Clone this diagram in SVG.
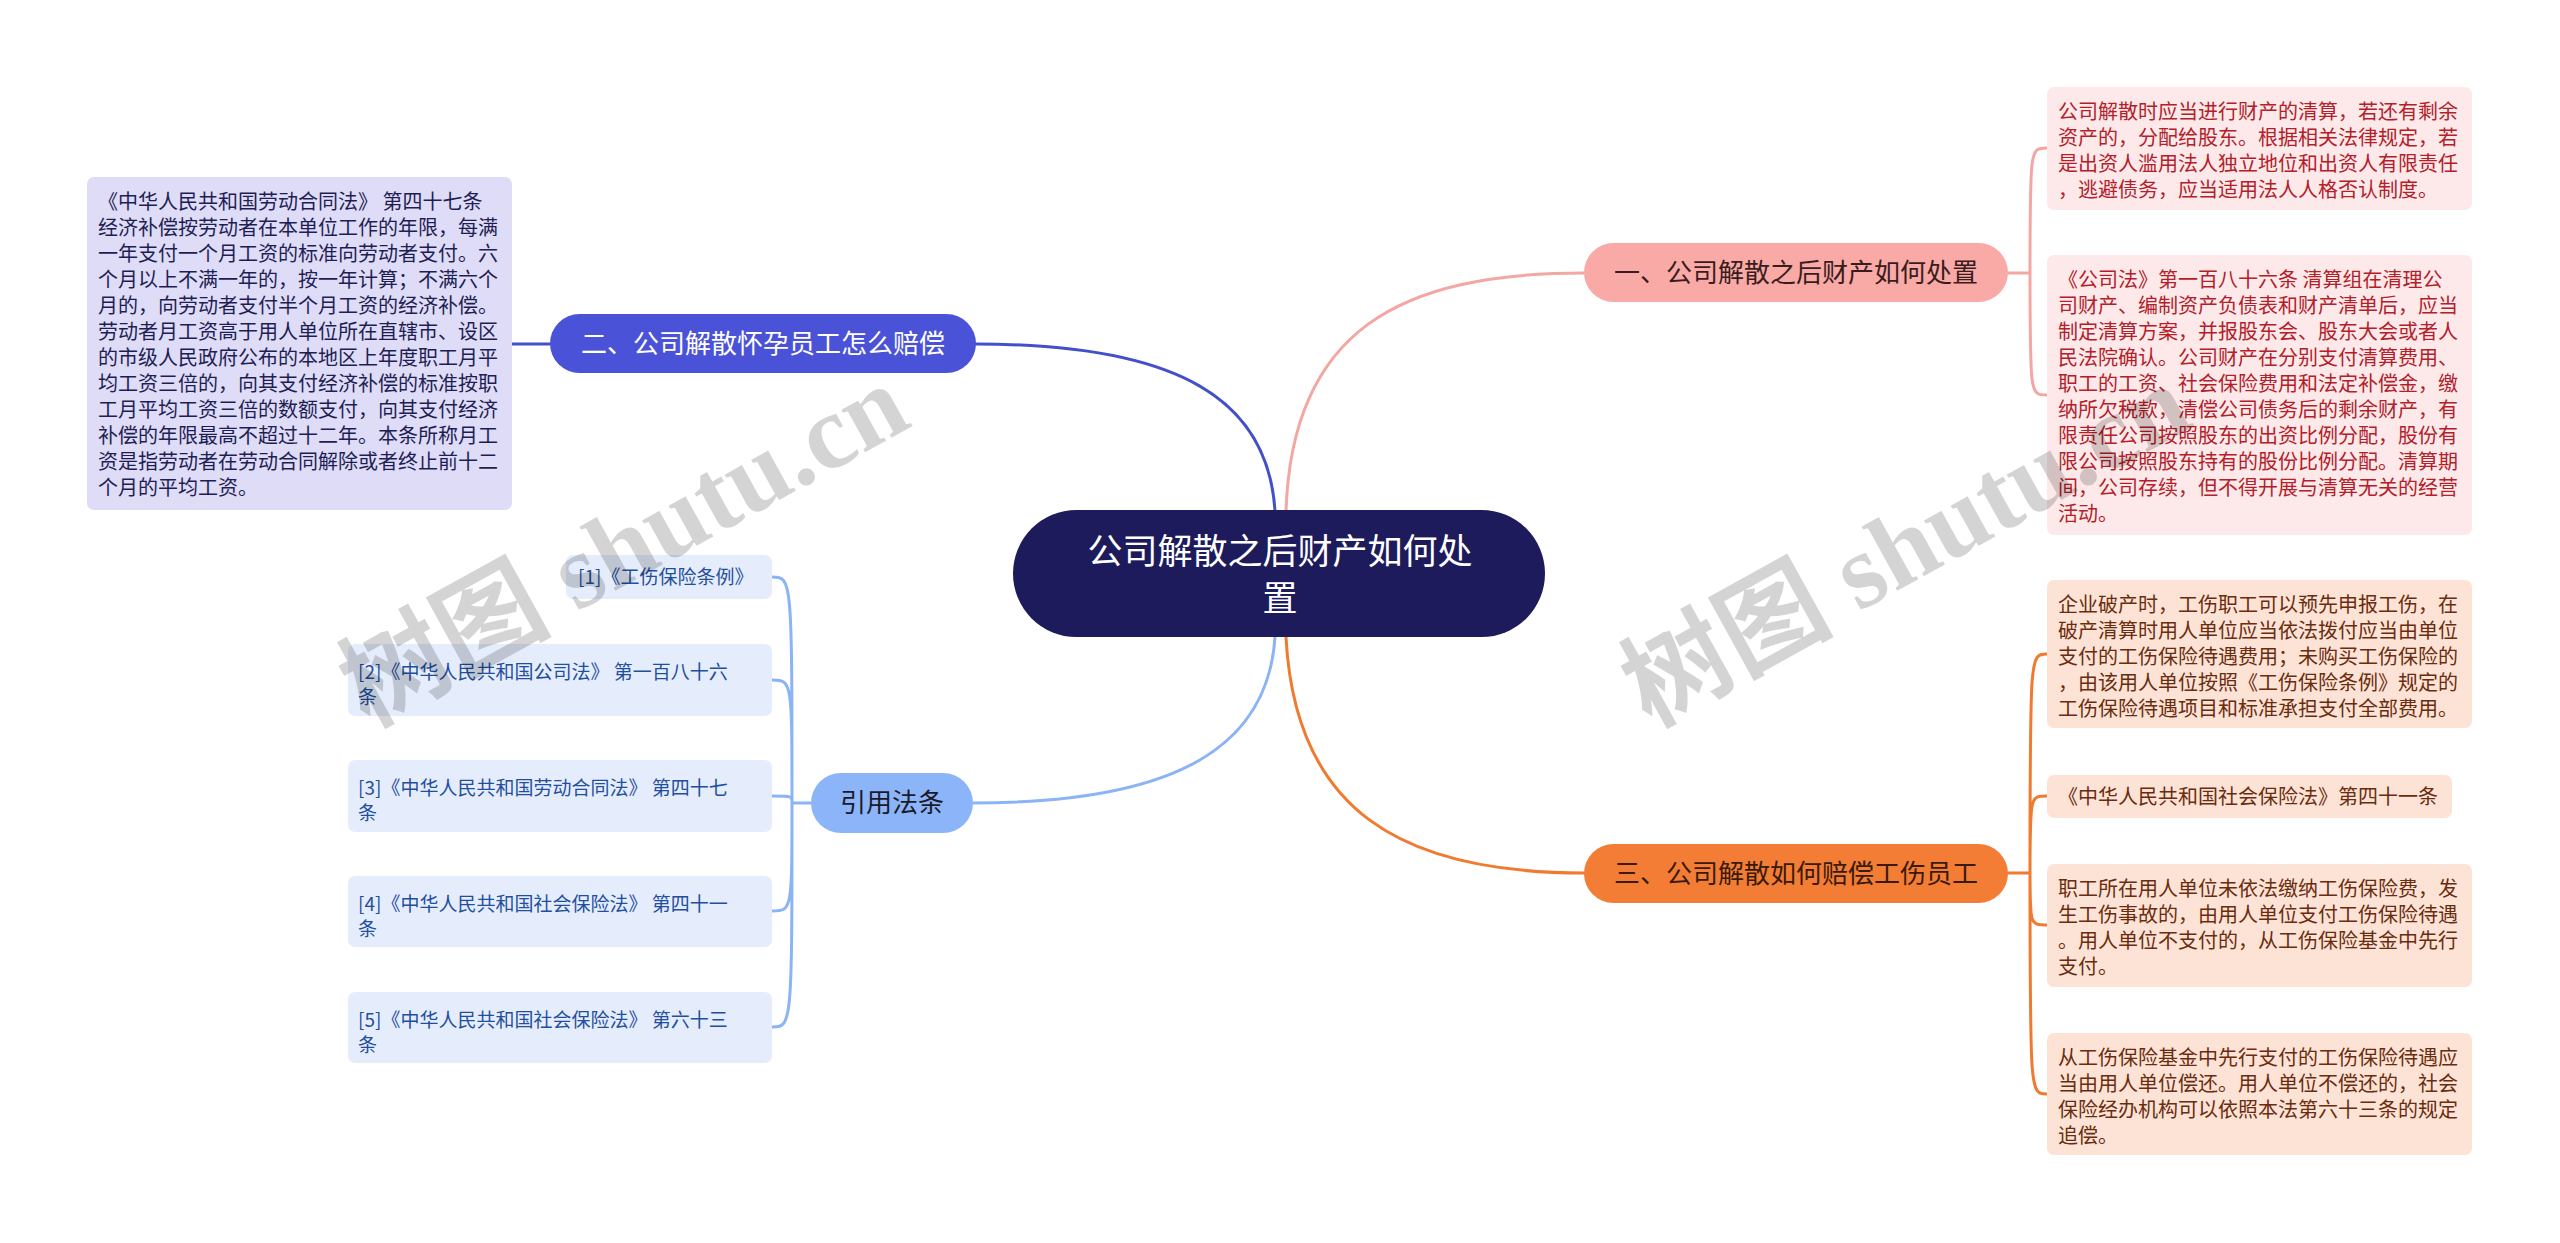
<svg xmlns="http://www.w3.org/2000/svg" width="2560" height="1243" viewBox="0 0 2560 1243">
<style>
  text { font-family: "Noto Sans CJK SC", "Noto Sans", sans-serif; }
  .box { stroke: none; }
  .t20 { font-size: 20px; }
  .t19 { font-size: 19px; }
  .navy { fill: #1e1e55; }
  .red { fill: #b3202a; }
  .brown { fill: #6a2c0e; }
  .blue { fill: #1f4f9e; }
  .conn { fill: none; stroke-width: 3; stroke-linecap: round; }
  .wm { font-family: "Liberation Serif", "Noto Sans CJK SC", serif; font-size: 106px; font-weight: bold; fill: #000; fill-opacity: 0.17; }
</style>
<rect width="2560" height="1243" fill="#ffffff"/>

<g id="connectors">
  <path class="conn" stroke="#4450c8" d="M 1275 511 C 1268 400, 1180 344, 976 344"/>
  <path class="conn" stroke="#4450c8" d="M 550 344 L 512 344"/>
  <path class="conn" stroke="#f4a6a3" d="M 1286 511 C 1292 330, 1400 273, 1584 273"/>
  <path class="conn" stroke="#f4a6a3" d="M 2008 273 L 2030 273 M 2030 273 C 2030 148, 2030 148, 2047 148 M 2030 273 C 2030 395, 2030 395, 2047 395"/>
  <path class="conn" stroke="#f07a30" d="M 1286 637 C 1295 810, 1400 873, 1584 873"/>
  <path class="conn" stroke="#f07a30" d="M 2008 873 L 2030 873 M 2030 873 C 2030 654, 2030 654, 2047 654 M 2030 873 C 2030 796, 2030 796, 2047 796 M 2030 873 C 2030 925, 2030 925, 2047 925 M 2030 873 C 2030 1094, 2030 1094, 2047 1094"/>
  <path class="conn" stroke="#8ab4f5" d="M 1275 637 C 1268 745, 1180 803, 973 803"/>
  <path class="conn" stroke="#8ab4f5" d="M 811 803 L 792 803 M 792 803 C 792 577, 792 577, 772 577 M 792 803 C 792 680, 792 680, 772 680 M 792 803 C 792 796, 792 796, 772 796 M 792 803 C 792 911, 792 911, 772 911 M 792 803 C 792 1027, 792 1027, 772 1027"/>
</g>

<g id="center">
  <rect x="1013" y="510" width="532" height="127" rx="63.5" fill="#1d1b5b"/>
  <text x="1280" y="564" text-anchor="middle" font-size="35" fill="#ffffff">公司解散之后财产如何处</text>
  <text x="1280" y="611" text-anchor="middle" font-size="35" fill="#ffffff">置</text>
</g>

<g id="branch-2">
  <rect x="550" y="314" width="426" height="59" rx="29.5" fill="#4a52d8"/>
  <text x="763" y="353" text-anchor="middle" font-size="26" fill="#ffffff">二、公司解散怀孕员工怎么赔偿</text>
</g>
<g id="leaf-2-1">
  <rect class="box" x="87" y="177" width="425" height="333" rx="7" fill="#dedcf6"/>
  <text class="t20 navy">
    <tspan x="98" y="209">《中华人民共和国劳动合同法》 第四十七条</tspan>
    <tspan x="98" y="235">经济补偿按劳动者在本单位工作的年限，每满</tspan>
    <tspan x="98" y="261">一年支付一个月工资的标准向劳动者支付。六</tspan>
    <tspan x="98" y="287">个月以上不满一年的，按一年计算；不满六个</tspan>
    <tspan x="98" y="313">月的，向劳动者支付半个月工资的经济补偿。</tspan>
    <tspan x="98" y="339">劳动者月工资高于用人单位所在直辖市、设区</tspan>
    <tspan x="98" y="365">的市级人民政府公布的本地区上年度职工月平</tspan>
    <tspan x="98" y="391">均工资三倍的，向其支付经济补偿的标准按职</tspan>
    <tspan x="98" y="417">工月平均工资三倍的数额支付，向其支付经济</tspan>
    <tspan x="98" y="443">补偿的年限最高不超过十二年。本条所称月工</tspan>
    <tspan x="98" y="469">资是指劳动者在劳动合同解除或者终止前十二</tspan>
    <tspan x="98" y="495">个月的平均工资。</tspan>
  </text>
</g>

<g id="branch-1">
  <rect x="1584" y="243" width="424" height="59" rx="29.5" fill="#f9aaa6"/>
  <text x="1796" y="282" text-anchor="middle" font-size="26" fill="#3a1c1c">一、公司解散之后财产如何处置</text>
</g>
<g id="leaf-1-1">
  <rect class="box" x="2047" y="87" width="425" height="123" rx="7" fill="#fde9e9"/>
  <text class="t20 red">
    <tspan x="2058" y="119">公司解散时应当进行财产的清算，若还有剩余</tspan>
    <tspan x="2058" y="145">资产的，分配给股东。根据相关法律规定，若</tspan>
    <tspan x="2058" y="171">是出资人滥用法人独立地位和出资人有限责任</tspan>
    <tspan x="2058" y="197">，逃避债务，应当适用法人人格否认制度。</tspan>
  </text>
</g>
<g id="leaf-1-2">
  <rect class="box" x="2047" y="255" width="425" height="280" rx="7" fill="#fde9e9"/>
  <text class="t20 red">
    <tspan x="2058" y="287">《公司法》第一百八十六条 清算组在清理公</tspan>
    <tspan x="2058" y="313">司财产、编制资产负债表和财产清单后，应当</tspan>
    <tspan x="2058" y="339">制定清算方案，并报股东会、股东大会或者人</tspan>
    <tspan x="2058" y="365">民法院确认。公司财产在分别支付清算费用、</tspan>
    <tspan x="2058" y="391">职工的工资、社会保险费用和法定补偿金，缴</tspan>
    <tspan x="2058" y="417">纳所欠税款，清偿公司债务后的剩余财产，有</tspan>
    <tspan x="2058" y="443">限责任公司按照股东的出资比例分配，股份有</tspan>
    <tspan x="2058" y="469">限公司按照股东持有的股份比例分配。清算期</tspan>
    <tspan x="2058" y="495">间，公司存续，但不得开展与清算无关的经营</tspan>
    <tspan x="2058" y="521">活动。</tspan>
  </text>
</g>

<g id="branch-3">
  <rect x="1584" y="844" width="424" height="59" rx="29.5" fill="#f47d35"/>
  <text x="1796" y="883" text-anchor="middle" font-size="26" fill="#3a1a0a">三、公司解散如何赔偿工伤员工</text>
</g>
<g id="leaf-3-1">
  <rect class="box" x="2047" y="580" width="425" height="148" rx="7" fill="#fde3d6"/>
  <text class="t20 brown">
    <tspan x="2058" y="612">企业破产时，工伤职工可以预先申报工伤，在</tspan>
    <tspan x="2058" y="638">破产清算时用人单位应当依法拨付应当由单位</tspan>
    <tspan x="2058" y="664">支付的工伤保险待遇费用；未购买工伤保险的</tspan>
    <tspan x="2058" y="690">，由该用人单位按照《工伤保险条例》规定的</tspan>
    <tspan x="2058" y="716">工伤保险待遇项目和标准承担支付全部费用。</tspan>
  </text>
</g>
<g id="leaf-3-2">
  <rect class="box" x="2047" y="775" width="405" height="43" rx="7" fill="#fde3d6"/>
  <text class="t20 brown" x="2058" y="804">《中华人民共和国社会保险法》第四十一条</text>
</g>
<g id="leaf-3-3">
  <rect class="box" x="2047" y="864" width="425" height="123" rx="7" fill="#fde3d6"/>
  <text class="t20 brown">
    <tspan x="2058" y="896">职工所在用人单位未依法缴纳工伤保险费，发</tspan>
    <tspan x="2058" y="922">生工伤事故的，由用人单位支付工伤保险待遇</tspan>
    <tspan x="2058" y="948">。用人单位不支付的，从工伤保险基金中先行</tspan>
    <tspan x="2058" y="974">支付。</tspan>
  </text>
</g>
<g id="leaf-3-4">
  <rect class="box" x="2047" y="1033" width="425" height="122" rx="7" fill="#fde3d6"/>
  <text class="t20 brown">
    <tspan x="2058" y="1065">从工伤保险基金中先行支付的工伤保险待遇应</tspan>
    <tspan x="2058" y="1091">当由用人单位偿还。用人单位不偿还的，社会</tspan>
    <tspan x="2058" y="1117">保险经办机构可以依照本法第六十三条的规定</tspan>
    <tspan x="2058" y="1143">追偿。</tspan>
  </text>
</g>

<g id="branch-4">
  <rect x="811" y="773" width="162" height="60" rx="30" fill="#8cb4f8"/>
  <text x="892" y="812" text-anchor="middle" font-size="26" fill="#1a1a2a">引用法条</text>
</g>
<g id="ref-1">
  <rect class="box" x="566" y="555" width="206" height="44" rx="7" fill="#e5edfc"/>
  <text class="t19 blue" x="578" y="584">[1]《工伤保险条例》</text>
</g>
<g id="ref-2">
  <rect class="box" x="348" y="644" width="424" height="72" rx="7" fill="#e5edfc"/>
  <text class="t19 blue"><tspan x="358" y="679">[2]《中华人民共和国公司法》 第一百八十六</tspan><tspan x="358" y="704">条</tspan></text>
</g>
<g id="ref-3">
  <rect class="box" x="348" y="760" width="424" height="72" rx="7" fill="#e5edfc"/>
  <text class="t19 blue"><tspan x="358" y="795">[3]《中华人民共和国劳动合同法》 第四十七</tspan><tspan x="358" y="820">条</tspan></text>
</g>
<g id="ref-4">
  <rect class="box" x="348" y="876" width="424" height="71" rx="7" fill="#e5edfc"/>
  <text class="t19 blue"><tspan x="358" y="911">[4]《中华人民共和国社会保险法》 第四十一</tspan><tspan x="358" y="936">条</tspan></text>
</g>
<g id="ref-5">
  <rect class="box" x="348" y="992" width="424" height="71" rx="7" fill="#e5edfc"/>
  <text class="t19 blue"><tspan x="358" y="1027">[5]《中华人民共和国社会保险法》 第六十三</tspan><tspan x="358" y="1052">条</tspan></text>
</g>

<g id="watermark">
  <text class="wm" x="368" y="728" transform="rotate(-29 368 728)">树图 shutu.cn</text>
  <text class="wm" x="1650" y="728" transform="rotate(-29 1650 728)">树图 shutu.cn</text>
</g>
</svg>
